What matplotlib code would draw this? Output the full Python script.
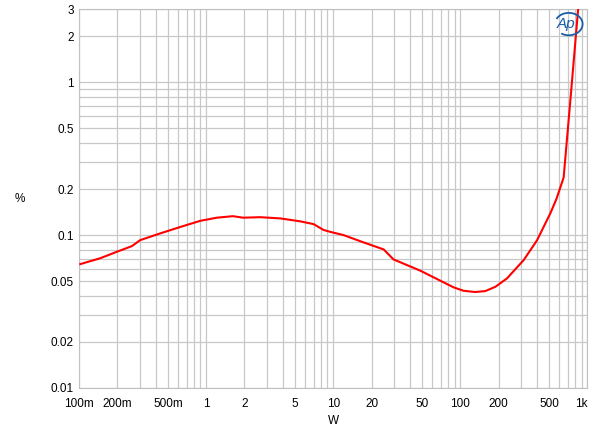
import numpy as np
import matplotlib
matplotlib.use("Agg")
import matplotlib.pyplot as plt
from matplotlib.ticker import FixedLocator, FixedFormatter, NullFormatter
from matplotlib.patches import Arc

plt.rcParams['font.family'] = ['Liberation Sans', 'DejaVu Sans']

# power (W) vs THD+N (%)
watts = [0.102, 0.146, 0.198, 0.260, 0.302, 0.434, 0.624, 0.897, 1.21, 1.62,
         1.95, 2.66, 3.83, 5.50, 7.00, 8.39, 9.47, 12.05, 17.3, 24.9,
         29.8, 48.4, 88.5, 106, 131, 157, 189, 233, 315, 402,
         511, 570, 650, 735, 845, 900]
thd = [0.0646, 0.0705, 0.0778, 0.0847, 0.0927, 0.1026, 0.113, 0.124, 0.130, 0.133,
       0.130, 0.131, 0.1286, 0.123, 0.118, 0.108, 0.105, 0.100, 0.0896, 0.0806,
       0.0693, 0.0585, 0.0455, 0.0432, 0.0424, 0.0430, 0.0459, 0.0521, 0.0686, 0.0927,
       0.139, 0.172, 0.238, 0.77, 3.0, 4.0]

xticks = [0.1, 0.2, 0.5, 1, 2, 5, 10, 20, 50, 100, 200, 500, 1000]
xlabels = ['100m', '200m', '500m', '1', '2', '5', '10', '20', '50', '100', '200', '500', '1k']
yticks = [0.01, 0.02, 0.05, 0.1, 0.2, 0.5, 1, 2, 3]
ylabels = ['0.01', '0.02', '0.05', '0.1', '0.2', '0.5', '1', '2', '3']

fig = plt.figure(figsize=(6, 4.3), dpi=100)
ax = fig.add_axes([0.132, 0.098, 0.847, 0.880])

ax.plot(watts, thd, color='#ff0000', lw=1.5, zorder=3)

ax.set_xscale('log')
ax.set_yscale('log')
ax.set_xlim(0.1, 1000)
ax.set_ylim(0.01, 3)

# grid lines at every 1..9 step of each decade
xgrid = [m * 10.0 ** e for e in range(-1, 3) for m in range(1, 10)] + [1000]
ygrid = [m * 10.0 ** e for e in range(-2, 1) for m in range(1, 10)] + [2, 3]
ax.xaxis.set_major_locator(FixedLocator(xticks))
ax.xaxis.set_major_formatter(FixedFormatter(xlabels))
ax.xaxis.set_minor_locator(FixedLocator(xgrid))
ax.xaxis.set_minor_formatter(NullFormatter())
ax.yaxis.set_major_locator(FixedLocator(yticks))
ax.yaxis.set_major_formatter(FixedFormatter(ylabels))
ax.yaxis.set_minor_locator(FixedLocator(ygrid))
ax.yaxis.set_minor_formatter(NullFormatter())
ax.grid(True, which='both', color='#c8c8c8', lw=0.9)
ax.tick_params(which='both', length=0, labelsize=8.5)
ax.tick_params(axis='x', pad=7)
ax.tick_params(axis='y', pad=4)
ax.get_xticklabels()[-1].set_horizontalalignment('right')
ax.get_xticklabels()[-1].set_x(1000)

for s in ax.spines.values():
    s.set_color('#c0c0c0')

ax.set_xlabel('W', fontsize=8.5, labelpad=4)
ax.set_ylabel('%', fontsize=8.5, rotation=0, labelpad=22, va='center')

# Ap logo
fig.text(0.944, 0.945, 'Ap', color='#1b5ea6', fontsize=11, style='italic',
         ha='center', va='center')
fig.patches.append(Arc((0.948, 0.944), 0.046, 0.052, theta1=-120, theta2=150,
                       transform=fig.transFigure, ec='#1b5ea6', lw=1.3))

fig.savefig('out.png', dpi=100)
